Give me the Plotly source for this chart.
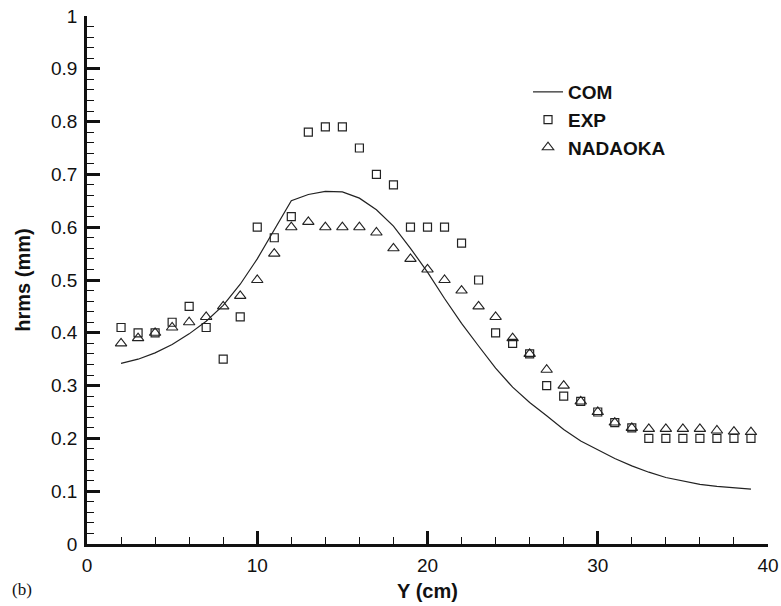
import plotly.graph_objects as go

# Data
y_pos = list(range(2, 40))
com = [0.342, 0.350, 0.362, 0.378, 0.398, 0.422, 0.452, 0.492, 0.540, 0.595,
       0.650, 0.662, 0.668, 0.667, 0.655, 0.633, 0.602, 0.560, 0.515, 0.465,
       0.418, 0.375, 0.333, 0.297, 0.268, 0.243, 0.217, 0.195, 0.178, 0.162,
       0.148, 0.136, 0.126, 0.119, 0.113, 0.109, 0.106, 0.104]
exp = [0.41, 0.40, 0.40, 0.42, 0.45, 0.41, 0.35, 0.43, 0.60, 0.58,
       0.62, 0.78, 0.79, 0.79, 0.75, 0.70, 0.68, 0.60, 0.60, 0.60,
       0.57, 0.50, 0.40, 0.38, 0.36, 0.30, 0.28, 0.27, 0.25, 0.23,
       0.22, 0.20, 0.20, 0.20, 0.20, 0.20, 0.20, 0.20]
nadaoka = [0.38, 0.39, 0.40, 0.41, 0.42, 0.43, 0.45, 0.47, 0.50, 0.55,
           0.60, 0.61, 0.60, 0.60, 0.60, 0.59, 0.56, 0.54, 0.52, 0.50,
           0.48, 0.45, 0.43, 0.39, 0.36, 0.33, 0.30, 0.27, 0.25, 0.23,
           0.22, 0.218, 0.218, 0.218, 0.218, 0.215, 0.213, 0.212]

x_ticks = [0, 10, 20, 30, 40]
y_ticks = [0, 0.1, 0.2, 0.3, 0.4, 0.5, 0.6, 0.7, 0.8, 0.9, 1]
y_tick_text = ["0", "0.1", "0.2", "0.3", "0.4", "0.5", "0.6", "0.7", "0.8", "0.9", "1"]

fig = go.Figure()
fig.add_trace(go.Scatter(x=y_pos, y=com, mode="lines", name="COM",
                         line=dict(color="#222222", width=1.2)))
fig.add_trace(go.Scatter(x=y_pos, y=exp, mode="markers", name="EXP",
                         marker=dict(symbol="square-open", size=8,
                                     color="#222222", line=dict(width=1.2))))
fig.add_trace(go.Scatter(x=y_pos, y=nadaoka, mode="markers", name="NADAOKA",
                         marker=dict(symbol="triangle-up-open", size=10,
                                     color="#222222", line=dict(width=1.1))))

axis_font = dict(family="Liberation Sans, Arial, sans-serif", size=19, color="#111111")

fig.update_layout(
    width=781, height=606,
    margin=dict(l=87, r=13, t=16, b=62, autoexpand=False),
    paper_bgcolor="white", plot_bgcolor="white",
    showlegend=True,
    legend=dict(x=0.6476, y=0.892, xanchor="left", yanchor="top",
                font=dict(family="Liberation Sans, Arial, sans-serif", size=19,
                          color="#111111", weight="bold"),
                bgcolor="rgba(0,0,0,0)", tracegroupgap=0, itemwidth=30),
    xaxis=dict(range=[0, 40], tickvals=x_ticks, ticks="inside", ticklen=13,
               tickwidth=2.5, tickcolor="#111111", showline=True, linewidth=2.5,
               linecolor="#111111", showgrid=False, zeroline=False,
               tickfont=axis_font, ticklabelstandoff=2, automargin=False,
               minor=dict(dtick=2, ticks="inside", ticklen=7, tickwidth=1.2,
                          tickcolor="#111111", showgrid=False),
               title=dict(text="<b>Y (cm)</b>", standoff=10,
                          font=dict(family="Liberation Sans, Arial, sans-serif",
                                    size=20, color="#111111"))),
    yaxis=dict(range=[0, 1], tickvals=y_ticks, ticktext=y_tick_text,
               ticks="inside", ticklen=13, tickwidth=2.5, tickcolor="#111111",
               showline=True, linewidth=2.5, linecolor="#111111",
               showgrid=False, zeroline=False, tickfont=axis_font,
               ticklabelstandoff=3, automargin=False,
               minor=dict(dtick=0.02, ticks="inside", ticklen=7, tickwidth=1.2,
                          tickcolor="#111111", showgrid=False),
               title=dict(text="<b>hrms (mm)</b>", standoff=16,
                          font=dict(family="Liberation Sans, Arial, sans-serif",
                                    size=20, color="#111111"))),
)

fig.add_annotation(text="(b)", xref="paper", yref="paper", x=-0.113, y=-0.087,
                   xanchor="left", yanchor="middle", showarrow=False,
                   font=dict(family="Liberation Serif, Times New Roman, serif",
                             size=17, color="#111111"))

fig.write_html("out.html")
